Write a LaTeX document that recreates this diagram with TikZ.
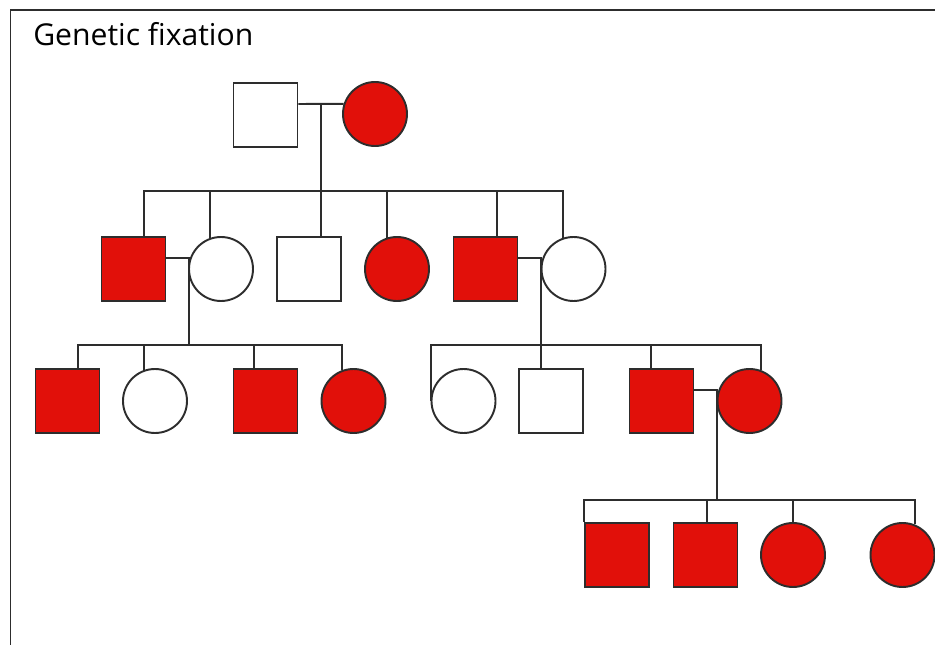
\documentclass[tikz,border=0pt]{standalone}
\usepackage{fontspec}
\setmainfont{Open Sans}
\usetikzlibrary{calc}
\definecolor{affred}{RGB}{225,16,10}
\definecolor{lineg}{RGB}{45,45,45}
\tikzset{
  link/.style={draw=lineg, line width=1.45pt, line join=miter},
  frameline/.style={draw=lineg, line width=1.2pt},
  person/.style={draw=lineg, line width=1.45pt, minimum size=48pt, inner sep=0pt, fill=white},
  male/.style={person, rectangle},
  female/.style={person, circle},
  aff/.style={fill=affred},
  titletext/.style={anchor=base west, inner sep=0pt, font=\fontsize{22.6}{27}\selectfont}
}
\begin{document}
\begin{tikzpicture}[x=0.75pt,y=-0.75pt]
\useasboundingbox (0,0) rectangle (935,645);
% outer frame (top and left edges)
\draw[frameline] (10.5,645) -- (10.5,10) -- (935,10);
\node[titletext] (title) at (33,46) {Genetic fixation};

% generation I
\node[male] (I1) at (265.5,115) {};
\node[female,aff] (I2) at (375,114) {};
% generation II
\node[male,aff] (II1) at (133.5,269) {};
\node[female] (II2) at (221,269) {};
\node[male] (II3) at (309,269) {};
\node[female,aff] (II4) at (397,269) {};
\node[male,aff] (II5) at (485.5,269) {};
\node[female] (II6) at (573.5,269) {};
% generation III
\node[male,aff] (III1) at (67.5,401) {};
\node[female] (III2) at (155,401) {};
\node[male,aff] (III3) at (265.5,401) {};
\node[female,aff] (III4) at (353.5,401) {};
\node[female] (III5) at (463.5,401) {};
\node[male] (III6) at (551,401) {};
\node[male,aff] (III7) at (661.5,401) {};
\node[female,aff] (III8) at (749.5,401) {};
% generation IV
\node[male,aff] (IV1) at (617,555) {};
\node[male,aff] (IV2) at (705.5,555) {};
\node[female,aff] (IV3) at (793,555) {};
\node[female,aff] (IV4) at (902.5,555) {};

% couple I1 x I2 and their children
\coordinate (m1) at (320.7,104);
\coordinate (s1) at (320.7,191);
\draw[link] (I1.east |- m1) -- (I2.162);
\draw[link] (m1) -- (m1 |- II3.north);
\coordinate (t1) at ($(II1.north)+(10.5,0)$);
\coordinate (t5) at ($(II5.north)+(11.2,0)$);
\draw[link] (t1) -- (t1 |- s1) -- (II6.109 |- s1) -- (II6.109);
\draw[link] (II2.110) -- (II2.110 |- s1);
\draw[link] (II4.108) -- (II4.108 |- s1);
\draw[link] (t5) -- (t5 |- s1);

% couple II1 x II2 and their children
\coordinate (m2) at (188.7,257.7);
\coordinate (s2) at (188.7,345);
\draw[link] (II1.east |- m2) -- (m2) -- (s2);
\coordinate (u1) at ($(III1.north)+(10.5,0)$);
\coordinate (u3) at ($(III3.north)+(-11.5,0)$);
\draw[link] (u1) -- (u1 |- s2) -- (III4.110 |- s2) -- (III4.110);
\draw[link] (III2.110) -- (III2.110 |- s2);
\draw[link] (u3) -- (u3 |- s2);

% couple II5 x II6 and their children
\coordinate (m3) at (541,257.7);
\coordinate (s3) at (541,345);
\draw[link] (II5.east |- m3) -- (m3) -- (m3 |- III6.north);
\coordinate (u7) at ($(III7.north)+(-10.8,0)$);
\draw[link] (III5.west) -- (III5.west |- s3) -- (III8.69 |- s3) -- (III8.69);
\draw[link] (u7) -- (u7 |- s3);

% couple III7 x III8 and their children
\coordinate (m4) at (717,390);
\coordinate (s4) at (717,500);
\draw[link] (III7.east |- m4) -- (m4) -- (s4);
\coordinate (v2) at ($(IV2.north)+(1.5,0)$);
\draw[link] (IV1.north west) -- (IV1.north west |- s4) -- (IV4.68 |- s4) -- (IV4.68);
\draw[link] (v2) -- (v2 |- s4);
\draw[link] (IV3.north) -- (IV3.north |- s4);
\end{tikzpicture}
\end{document}
